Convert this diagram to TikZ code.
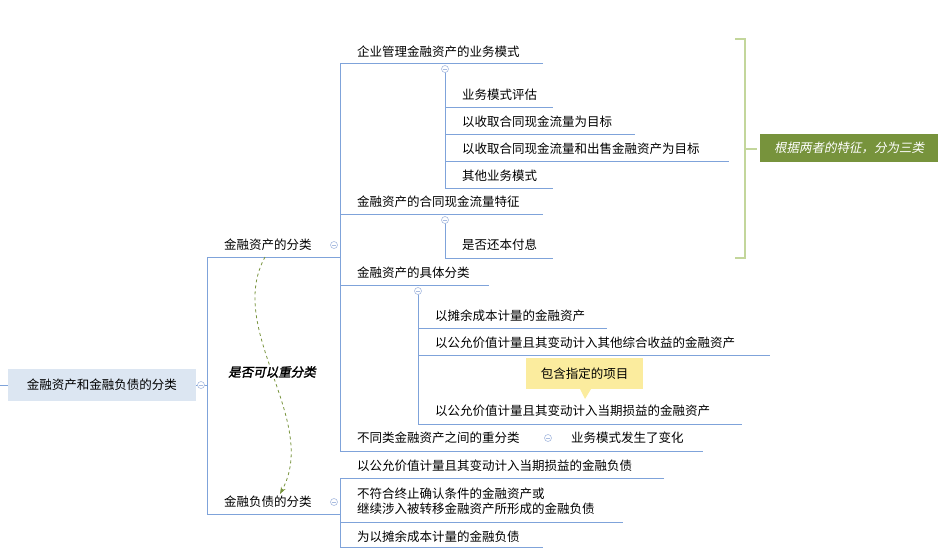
\documentclass[tikz,border=0pt]{standalone}
\usepackage{fontspec}
\setmainfont{Noto Sans CJK SC}
\newfontfamily\cjkit[FakeSlant=0.2]{Noto Sans CJK SC}
\newfontfamily\cjkbi[FakeSlant=0.2,FakeBold=2]{Noto Sans CJK SC}
\usetikzlibrary{arrows.meta}
\definecolor{ln}{HTML}{7FA3DA}
\definecolor{rootf}{HTML}{DCE6F2}
\definecolor{brk}{HTML}{C3D69B}
\definecolor{olive}{HTML}{77933C}
\definecolor{yel}{HTML}{FBEC9E}
\definecolor{cir}{HTML}{A9BCE0}
\tikzset{
  x=1pt,y=-1pt,
  lbl/.style={anchor=west,inner sep=0pt,font=\fontsize{12.5}{15}\selectfont,text=black},
  br/.style={draw=ln,line width=0.9pt},
  coll/.style={circle,draw=cir,fill=white,minimum size=7pt,inner sep=0pt,line width=0.6pt,
    path picture={\draw[cir,line width=0.6pt] ([xshift=-2pt]path picture bounding box.center)--([xshift=2pt]path picture bounding box.center);}}
}
\begin{document}
\begin{tikzpicture}
\useasboundingbox (0,0) rectangle (946,557);
% root
\node[fill=rootf,minimum width=188pt,minimum height=32pt,inner sep=0pt,font=\fontsize{12.5}{15}\selectfont] (root) at (102,385) {金融资产和金融负债的分类};
\coordinate (rl) at (0,385);
\draw[br] (rl)--(root.west);
% level 1 bracket
\coordinate (a1) at (207,257); \coordinate (a2) at (207,514);
\draw[br] (root.east)--(207,385);
\draw[br] (340,257)--(a1)--(a2)--(340,514);
\node[lbl] (fa) at (224,245) {金融资产的分类};
\node[lbl] (fl) at (224,502) {金融负债的分类};
\node[coll] (c0) at (201,385) {};
\node[coll] (c1) at (334,245) {};
\node[coll] (c2) at (334,502) {};
% assets level 2
\draw[br] (543,63)--(340,63)--(340,451)--(703,451);
\draw[br] (340,214)--(543,214);
\draw[br] (340,285)--(489,285);
\node[lbl] (m1) at (357,52) {企业管理金融资产的业务模式};
\node[lbl] (m2) at (357,202) {金融资产的合同现金流量特征};
\node[lbl] (m3) at (357,273) {金融资产的具体分类};
\node[lbl] (m4) at (357,438) {不同类金融资产之间的重分类};
\node[lbl] (m4a) at (571,438) {业务模式发生了变化};
% business model children
\draw[br] (445,69)--(445,188);
\draw[br] (445,107)--(553,107);
\draw[br] (445,134)--(635,134);
\draw[br] (445,161)--(729,161);
\draw[br] (445,188)--(553,188);
\node[lbl] (b1) at (462,95) {业务模式评估};
\node[lbl] (b2) at (462,122) {以收取合同现金流量为目标};
\node[lbl] (b3) at (462,149) {以收取合同现金流量和出售金融资产为目标};
\node[lbl] (b4) at (462,176) {其他业务模式};
% cash flow children
\draw[br] (445,220)--(445,258)--(553,258);
\node[lbl] (d1) at (462,245) {是否还本付息};
% specific classes
\draw[br] (418,291)--(418,424);
\draw[br] (418,328)--(607,328);
\draw[br] (418,355)--(770,355);
\draw[br] (418,424)--(742,424);
\node[lbl] (s1) at (435,316) {以摊余成本计量的金融资产};
\node[lbl] (s2) at (435,343) {以公允价值计量且其变动计入其他综合收益的金融资产};
\node[lbl] (s3) at (435,411) {以公允价值计量且其变动计入当期损益的金融资产};
\node[fill=yel,minimum width=117pt,minimum height=31pt,inner sep=0pt,font=\fontsize{12.5}{15}\selectfont] (call) at (584.5,373.5) {包含指定的项目};
\coordinate (tip) at (585,399);
\fill[yel] (580,389)--(tip)--(591,389)--cycle;
\node[coll] (c3) at (445,69) {};
\node[coll] (c4) at (445,220) {};
\node[coll] (c5) at (418,291) {};
\node[coll] (c6) at (548,438) {};
% liabilities
\draw[br] (664,478)--(340,478)--(340,547)--(543,547);
\draw[br] (340,522)--(623,522);
\node[lbl] (l1) at (357,466) {以公允价值计量且其变动计入当期损益的金融负债};
\node[lbl,align=left] (l2) at (357,501) {不符合终止确认条件的金融资产或\\继续涉入被转移金融资产所形成的金融负债};
\node[lbl] (l3) at (357,537) {为以摊余成本计量的金融负债};
% green bracket
\draw[brk,line width=2.5pt] (735,39)--(745,39)--(745,258)--(735,258);
\draw[brk,line width=2.5pt] (745,149)--(757,149);
\node[fill=olive,text=white,minimum width=178pt,minimum height=28pt,inner sep=0pt,font=\cjkit\fontsize{12.5}{15}\selectfont] (g) at (849,148) {根据两者的特征，分为三类};
% relation
\coordinate (rs) at (265,257);
\coordinate (re) at (280,494);
\draw[olive,dashed,line width=0.8pt,-{Stealth[length=7pt,width=5pt]}] (rs) .. controls (225,330) and (320,420) .. (re);
\node[fill=white,inner sep=1pt,font=\cjkbi\fontsize{12.5}{15}\selectfont] (rl2) at (272,372) {是否可以重分类};
\end{tikzpicture}
\end{document}
